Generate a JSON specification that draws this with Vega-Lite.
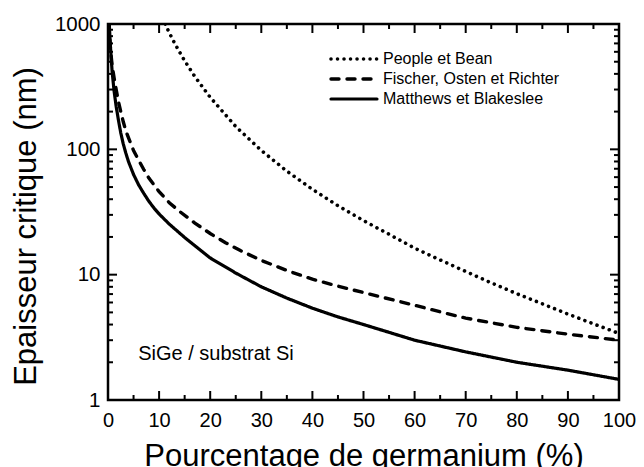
{
  "$schema": "https://vega.github.io/schema/vega-lite/v6.json",
  "width": 511,
  "height": 376,
  "autosize": {"type": "none"},
  "padding": {"left": 108, "top": 24, "right": 25, "bottom": 67},
  "background": "white",
  "config": {
    "view": {"stroke": "black", "strokeWidth": 2.5},
    "font": "Liberation Sans"
  },
  "datasets": {
    "curves": [
      {"s": "People et Bean", "x": 11.2, "h": 1000},
      {"s": "People et Bean", "x": 12, "h": 850},
      {"s": "People et Bean", "x": 13, "h": 708},
      {"s": "People et Bean", "x": 14, "h": 598},
      {"s": "People et Bean", "x": 15, "h": 509},
      {"s": "People et Bean", "x": 17, "h": 380},
      {"s": "People et Bean", "x": 20, "h": 260},
      {"s": "People et Bean", "x": 25, "h": 152},
      {"s": "People et Bean", "x": 30, "h": 98},
      {"s": "People et Bean", "x": 35, "h": 67},
      {"s": "People et Bean", "x": 40, "h": 48},
      {"s": "People et Bean", "x": 45, "h": 35.5},
      {"s": "People et Bean", "x": 50, "h": 27},
      {"s": "People et Bean", "x": 55, "h": 21},
      {"s": "People et Bean", "x": 60, "h": 16.3},
      {"s": "People et Bean", "x": 65, "h": 13.1},
      {"s": "People et Bean", "x": 70, "h": 10.6},
      {"s": "People et Bean", "x": 75, "h": 8.6},
      {"s": "People et Bean", "x": 80, "h": 7.05},
      {"s": "People et Bean", "x": 85, "h": 5.85},
      {"s": "People et Bean", "x": 90, "h": 4.85},
      {"s": "People et Bean", "x": 95, "h": 4.05},
      {"s": "People et Bean", "x": 100, "h": 3.4},
      {"s": "Fischer, Osten et Richter", "x": 0.15, "h": 1000},
      {"s": "Fischer, Osten et Richter", "x": 0.5, "h": 620},
      {"s": "Fischer, Osten et Richter", "x": 0.8, "h": 470},
      {"s": "Fischer, Osten et Richter", "x": 1.2, "h": 370},
      {"s": "Fischer, Osten et Richter", "x": 1.6, "h": 300},
      {"s": "Fischer, Osten et Richter", "x": 2, "h": 245},
      {"s": "Fischer, Osten et Richter", "x": 2.5, "h": 200},
      {"s": "Fischer, Osten et Richter", "x": 3, "h": 165},
      {"s": "Fischer, Osten et Richter", "x": 3.5, "h": 140},
      {"s": "Fischer, Osten et Richter", "x": 4, "h": 124},
      {"s": "Fischer, Osten et Richter", "x": 5, "h": 98},
      {"s": "Fischer, Osten et Richter", "x": 6, "h": 82},
      {"s": "Fischer, Osten et Richter", "x": 7, "h": 69},
      {"s": "Fischer, Osten et Richter", "x": 8, "h": 59},
      {"s": "Fischer, Osten et Richter", "x": 9, "h": 52},
      {"s": "Fischer, Osten et Richter", "x": 10, "h": 46},
      {"s": "Fischer, Osten et Richter", "x": 12, "h": 37.5},
      {"s": "Fischer, Osten et Richter", "x": 14, "h": 32},
      {"s": "Fischer, Osten et Richter", "x": 17, "h": 25.8},
      {"s": "Fischer, Osten et Richter", "x": 20, "h": 21.3},
      {"s": "Fischer, Osten et Richter", "x": 23, "h": 18},
      {"s": "Fischer, Osten et Richter", "x": 26, "h": 15.5},
      {"s": "Fischer, Osten et Richter", "x": 30, "h": 13},
      {"s": "Fischer, Osten et Richter", "x": 35, "h": 10.8},
      {"s": "Fischer, Osten et Richter", "x": 40, "h": 9.2},
      {"s": "Fischer, Osten et Richter", "x": 45, "h": 8.1},
      {"s": "Fischer, Osten et Richter", "x": 50, "h": 7.2},
      {"s": "Fischer, Osten et Richter", "x": 60, "h": 5.7},
      {"s": "Fischer, Osten et Richter", "x": 65, "h": 5.05},
      {"s": "Fischer, Osten et Richter", "x": 70, "h": 4.5},
      {"s": "Fischer, Osten et Richter", "x": 80, "h": 3.8},
      {"s": "Fischer, Osten et Richter", "x": 90, "h": 3.35},
      {"s": "Fischer, Osten et Richter", "x": 100, "h": 3.0},
      {"s": "Matthews et Blakeslee", "x": 0.25, "h": 1000},
      {"s": "Matthews et Blakeslee", "x": 0.5, "h": 640},
      {"s": "Matthews et Blakeslee", "x": 0.8, "h": 420},
      {"s": "Matthews et Blakeslee", "x": 1.2, "h": 290},
      {"s": "Matthews et Blakeslee", "x": 1.6, "h": 220},
      {"s": "Matthews et Blakeslee", "x": 2, "h": 175},
      {"s": "Matthews et Blakeslee", "x": 2.5, "h": 135},
      {"s": "Matthews et Blakeslee", "x": 3, "h": 110},
      {"s": "Matthews et Blakeslee", "x": 3.5, "h": 93},
      {"s": "Matthews et Blakeslee", "x": 4, "h": 80},
      {"s": "Matthews et Blakeslee", "x": 5, "h": 63},
      {"s": "Matthews et Blakeslee", "x": 6, "h": 52},
      {"s": "Matthews et Blakeslee", "x": 7, "h": 44.5},
      {"s": "Matthews et Blakeslee", "x": 8, "h": 38.5},
      {"s": "Matthews et Blakeslee", "x": 9, "h": 34},
      {"s": "Matthews et Blakeslee", "x": 10, "h": 30.5},
      {"s": "Matthews et Blakeslee", "x": 12, "h": 25.3},
      {"s": "Matthews et Blakeslee", "x": 15, "h": 19.8},
      {"s": "Matthews et Blakeslee", "x": 20, "h": 13.6},
      {"s": "Matthews et Blakeslee", "x": 25, "h": 10.3},
      {"s": "Matthews et Blakeslee", "x": 30, "h": 8.0},
      {"s": "Matthews et Blakeslee", "x": 35, "h": 6.5},
      {"s": "Matthews et Blakeslee", "x": 40, "h": 5.4},
      {"s": "Matthews et Blakeslee", "x": 45, "h": 4.6},
      {"s": "Matthews et Blakeslee", "x": 50, "h": 4.0},
      {"s": "Matthews et Blakeslee", "x": 60, "h": 3.0},
      {"s": "Matthews et Blakeslee", "x": 70, "h": 2.42},
      {"s": "Matthews et Blakeslee", "x": 80, "h": 2.0},
      {"s": "Matthews et Blakeslee", "x": 90, "h": 1.73},
      {"s": "Matthews et Blakeslee", "x": 100, "h": 1.46}
    ],
    "note": [{"x": 5.9, "h": 2.08, "label": "SiGe / substrat Si"}],
    "txMajor": [{"v": 0}, {"v": 10}, {"v": 20}, {"v": 30}, {"v": 40}, {"v": 50}, {"v": 60}, {"v": 70}, {"v": 80}, {"v": 90}, {"v": 100}],
    "txMinor": [{"v": 5}, {"v": 15}, {"v": 25}, {"v": 35}, {"v": 45}, {"v": 55}, {"v": 65}, {"v": 75}, {"v": 85}, {"v": 95}],
    "tyMajor": [{"v": 1}, {"v": 10}, {"v": 100}, {"v": 1000}],
    "tyMinor": [
      {"v": 2}, {"v": 3}, {"v": 4}, {"v": 5}, {"v": 6}, {"v": 7}, {"v": 8}, {"v": 9},
      {"v": 20}, {"v": 30}, {"v": 40}, {"v": 50}, {"v": 60}, {"v": 70}, {"v": 80}, {"v": 90},
      {"v": 200}, {"v": 300}, {"v": 400}, {"v": 500}, {"v": 600}, {"v": 700}, {"v": 800}, {"v": 900}
    ]
  },
  "layer": [
    {
      "data": {"name": "curves"},
      "mark": {"type": "line", "strokeCap": "round", "color": "black", "clip": true},
      "encoding": {
        "x": {
          "field": "x", "type": "quantitative",
          "scale": {"domain": [0, 100], "nice": false, "zero": false},
          "axis": {
            "orient": "bottom",
            "values": [0, 10, 20, 30, 40, 50, 60, 70, 80, 90, 100],
            "format": "d",
            "grid": false, "domain": false, "ticks": false, "tickSize": 0,
            "labelFontSize": 20, "labelColor": "black", "labelFont": "Liberation Sans",
            "labelPadding": 10, "labelFlush": false, "labelOverlap": false,
            "title": "Pourcentage de germanium (%)",
            "titleFont": "Liberation Sans", "titleFontWeight": "normal", "titleColor": "black",
            "titleFontSize": 31,
            "titleY": 65,
            "titleBaseline": "alphabetic",
            "titleAlign": "center"
          }
        },
        "y": {
          "field": "h", "type": "quantitative",
          "scale": {"type": "log", "domain": [1, 1000], "nice": false},
          "axis": {
            "orient": "left",
            "values": [1, 10, 100, 1000],
            "format": "d",
            "grid": false, "domain": false, "ticks": false, "tickSize": 0,
            "labelFontSize": 20.5, "labelColor": "black", "labelFont": "Liberation Sans",
            "labelPadding": 8, "labelFlush": false, "labelOverlap": false,
            "title": "Epaisseur critique (nm)",
            "titleFont": "Liberation Sans", "titleFontWeight": "normal", "titleColor": "black",
            "titleFontSize": 31,
            "titleX": -73,
            "titleY": 202,
            "titleAngle": -90,
            "titleBaseline": "alphabetic",
            "titleAlign": "center"
          }
        },
        "strokeDash": {
          "field": "s", "type": "nominal",
          "scale": {"domain": ["People et Bean", "Fischer, Osten et Richter", "Matthews et Blakeslee"], "range": [[0.01, 6.5], [8, 8], [1, 0]]},
          "legend": {
            "orient": "none", "legendX": 221, "legendY": 25, "title": null,
            "labelFontSize": 16, "labelColor": "black", "labelFont": "Liberation Sans", "labelLimit": 0,
            "symbolType": "stroke", "symbolSize": 2116, "symbolStrokeColor": "black", "symbolStrokeWidth": 2.8,
            "clipHeight": 20, "rowPadding": 0, "labelOffset": 4, "padding": 0,
            "encode": {"symbols": {"update": {"strokeCap": {"value": "round"}}}}
          }
        },
        "strokeWidth": {
          "field": "s", "type": "nominal",
          "scale": {"domain": ["People et Bean", "Fischer, Osten et Richter", "Matthews et Blakeslee"], "range": [3.6, 3.2, 1.9]},
          "legend": null
        }
      }
    },
    {
      "data": {"name": "note"},
      "mark": {"type": "text", "align": "left", "baseline": "alphabetic", "fontSize": 20, "font": "Liberation Sans", "color": "black"},
      "encoding": {
        "x": {"field": "x", "type": "quantitative"},
        "y": {"field": "h", "type": "quantitative"},
        "text": {"field": "label", "type": "nominal"}
      }
    },
    {
      "data": {"name": "txMajor"},
      "mark": {"type": "tick", "orient": "vertical", "color": "black", "thickness": 2, "size": 9, "yOffset": -4.5, "opacity": 1},
      "encoding": {"x": {"field": "v", "type": "quantitative"}, "y": {"datum": 1, "type": "quantitative"}}
    },
    {
      "data": {"name": "txMajor"},
      "mark": {"type": "tick", "orient": "vertical", "color": "black", "thickness": 2, "size": 9, "yOffset": 4.5, "opacity": 1},
      "encoding": {"x": {"field": "v", "type": "quantitative"}, "y": {"datum": 1000, "type": "quantitative"}}
    },
    {
      "data": {"name": "txMinor"},
      "mark": {"type": "tick", "orient": "vertical", "color": "black", "thickness": 2, "size": 5, "yOffset": -2.5, "opacity": 1},
      "encoding": {"x": {"field": "v", "type": "quantitative"}, "y": {"datum": 1, "type": "quantitative"}}
    },
    {
      "data": {"name": "txMinor"},
      "mark": {"type": "tick", "orient": "vertical", "color": "black", "thickness": 2, "size": 5, "yOffset": 2.5, "opacity": 1},
      "encoding": {"x": {"field": "v", "type": "quantitative"}, "y": {"datum": 1000, "type": "quantitative"}}
    },
    {
      "data": {"name": "tyMajor"},
      "mark": {"type": "tick", "orient": "horizontal", "color": "black", "thickness": 2, "size": 9, "xOffset": 4.5, "opacity": 1},
      "encoding": {"y": {"field": "v", "type": "quantitative"}, "x": {"datum": 0, "type": "quantitative"}}
    },
    {
      "data": {"name": "tyMajor"},
      "mark": {"type": "tick", "orient": "horizontal", "color": "black", "thickness": 2, "size": 9, "xOffset": -4.5, "opacity": 1},
      "encoding": {"y": {"field": "v", "type": "quantitative"}, "x": {"datum": 100, "type": "quantitative"}}
    },
    {
      "data": {"name": "tyMinor"},
      "mark": {"type": "tick", "orient": "horizontal", "color": "black", "thickness": 2, "size": 5, "xOffset": 2.5, "opacity": 1},
      "encoding": {"y": {"field": "v", "type": "quantitative"}, "x": {"datum": 0, "type": "quantitative"}}
    },
    {
      "data": {"name": "tyMinor"},
      "mark": {"type": "tick", "orient": "horizontal", "color": "black", "thickness": 2, "size": 5, "xOffset": -2.5, "opacity": 1},
      "encoding": {"y": {"field": "v", "type": "quantitative"}, "x": {"datum": 100, "type": "quantitative"}}
    }
  ]
}
